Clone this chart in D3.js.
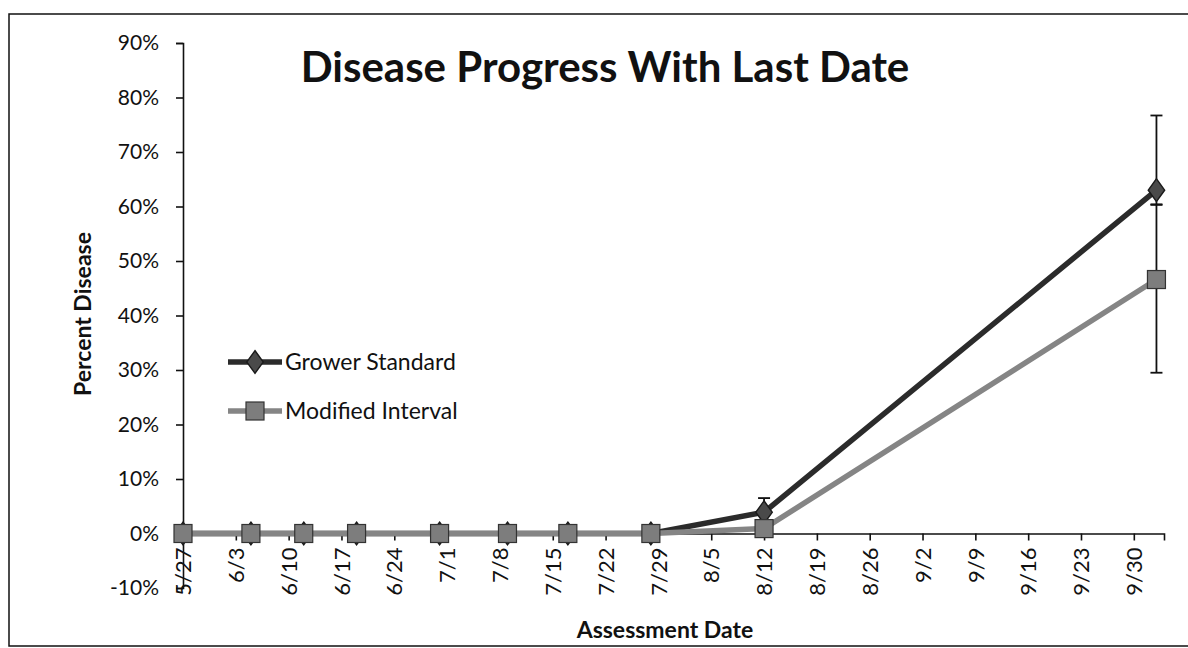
<!DOCTYPE html>
<html>
<head>
<meta charset="utf-8">
<script src="https://cdn.jsdelivr.net/npm/d3@7"></script>
<style>
  body { margin: 0; background: #fff; }
  svg { display: block; font-family: Lato, "Open Sans", sans-serif; }
</style>
</head>
<body>
<svg class="chart" width="1188" height="648"></svg>
<script>
// data
var dates = ["5/27", "6/5", "6/12", "6/19", "6/30", "7/9", "7/17", "7/28", "8/12", "10/3"];
var growerStandard = [0, 0, 0, 0, 0, 0, 0, 0, 3.9, 63];
var modifiedInterval = [0, 0, 0, 0, 0, 0, 0, 0, 0.9, 46.6];
var gsErrPlus = [0, 0, 0, 0, 0, 0, 0, 0, 2.6, 13.7];
var gsErrMinus = [0, 0, 0, 0, 0, 0, 0, 0, 0, 2.7];
var miErrPlus = [0, 0, 0, 0, 0, 0, 0, 0, 0, 13.8];
var miErrMinus = [0, 0, 0, 0, 0, 0, 0, 0, 0, 17.1];
var xTickLabels = ["5/27", "6/3", "6/10", "6/17", "6/24", "7/1", "7/8", "7/15", "7/22", "7/29",
                   "8/5", "8/12", "8/19", "8/26", "9/2", "9/9", "9/16", "9/23", "9/30"];
var yTicks = [-10, 0, 10, 20, 30, 40, 50, 60, 70, 80, 90];
var seriesNames = ["Grower Standard", "Modified Interval"];

var parseDate = function(s) { return d3.timeParse("%m/%d/%Y")(s + "/2013"); };

var margin = {top: 43, left: 183};
var chartWidth = 981;
var chartHeight = 545;

var svg = d3.select(".chart");

// outer frame (left, top, bottom edges of the scanned border)
svg.append("path")
  .attr("d", "M1188,14 L9,14 L9,646 L1188,646")
  .attr("fill", "none").attr("stroke", "#111").attr("stroke-width", 1.5);

var chart = svg.append("g").attr("transform", "translate(" + margin.left + "," + margin.top + ")");

var x = d3.scaleTime()
  .domain([parseDate("5/27"), parseDate("10/4")])
  .range([0, chartWidth]);
var y = d3.scaleLinear().domain([-10, 90]).range([chartHeight, 0]);

// y axis
var yAxis = chart.append("g")
  .call(d3.axisLeft(y).tickValues(yTicks).tickSize(7).tickPadding(17)
    .tickFormat(function(d) { return d + "%"; }));
yAxis.select(".domain").attr("stroke", "#111").attr("stroke-width", 1.6);
yAxis.selectAll(".tick line").attr("stroke", "#111").attr("stroke-width", 1.6);
yAxis.selectAll("text").style("font-size", "21px").attr("fill", "#111")
  .style("font-family", "Lato, sans-serif");

// x axis at 0%
var xAxis = chart.append("g")
  .attr("transform", "translate(0," + y(0) + ")")
  .call(d3.axisBottom(x).tickValues(xTickLabels.map(parseDate)).tickSize(7)
    .tickFormat(function(d, i) { return xTickLabels[i]; }));
xAxis.select(".domain").attr("stroke", "#111").attr("stroke-width", 1.6);
xAxis.selectAll(".tick line").attr("stroke", "#111").attr("stroke-width", 1.6);
xAxis.selectAll("text")
  .style("font-size", "22px").style("font-family", "Lato, sans-serif").attr("fill", "#111")
  .style("text-anchor", "end")
  .attr("transform", "rotate(-90)")
  .attr("x", -14).attr("y", 0).attr("dy", "0.35em");

// title
svg.append("text")
  .attr("x", 605).attr("y", 82)
  .style("text-anchor", "middle")
  .style("font-size", "42px").style("font-weight", "bold").attr("fill", "#111")
  .text("Disease Progress With Last Date");

// axis titles
svg.append("text")
  .attr("transform", "translate(" + 91 + "," + 314 + ") rotate(-90)")
  .style("text-anchor", "middle")
  .style("font-size", "23px").style("font-weight", "bold").attr("fill", "#111")
  .text("Percent Disease");

svg.append("text")
  .attr("x", 665).attr("y", 638)
  .style("text-anchor", "middle")
  .style("font-size", "23px").style("font-weight", "bold").attr("fill", "#111")
  .text("Assessment Date");

var gsData = dates.map(function(d, i) {
  return {date: parseDate(d), v: growerStandard[i], up: gsErrPlus[i], dn: gsErrMinus[i]};
});
var miData = dates.map(function(d, i) {
  return {date: parseDate(d), v: modifiedInterval[i], up: miErrPlus[i], dn: miErrMinus[i]};
});

var line = d3.line()
  .x(function(d) { return x(d.date); })
  .y(function(d) { return y(d.v); });

// error bars
function errorBars(data) {
  var g = chart.append("g");
  data.filter(function(d) { return d.up > 0 || d.dn > 0; }).forEach(function(d) {
    var cx = x(d.date);
    g.append("line").attr("x1", cx).attr("x2", cx)
      .attr("y1", y(d.v + d.up)).attr("y2", y(d.v - d.dn))
      .attr("stroke", "#111").attr("stroke-width", 1.8);
    if (d.up > 0) {
      g.append("line").attr("x1", cx - 6).attr("x2", cx + 6)
        .attr("y1", y(d.v + d.up)).attr("y2", y(d.v + d.up))
        .attr("stroke", "#111").attr("stroke-width", 1.8);
    }
    if (d.dn > 0) {
      g.append("line").attr("x1", cx - 6).attr("x2", cx + 6)
        .attr("y1", y(d.v - d.dn)).attr("y2", y(d.v - d.dn))
        .attr("stroke", "#111").attr("stroke-width", 1.8);
    }
  });
}
errorBars(gsData);
errorBars(miData);

// series lines
chart.append("path").datum(gsData)
  .attr("d", line).attr("fill", "none")
  .attr("stroke", "#2b2b2b").attr("stroke-width", 5.5);
chart.append("path").datum(miData)
  .attr("d", line).attr("fill", "none")
  .attr("stroke", "#858585").attr("stroke-width", 5.5);

var diamond = d3.symbol().type(d3.symbolDiamond).size(150);

chart.selectAll(".gsPoint").data(gsData).enter().append("path")
  .attr("class", "gsPoint")
  .attr("transform", function(d) { return "translate(" + x(d.date) + "," + y(d.v) + ") scale(1.25,1)"; })
  .attr("d", diamond)
  .attr("fill", "#4a4a4a").attr("stroke", "#1a1a1a").attr("stroke-width", 1.2);

chart.selectAll(".miPoint").data(miData).enter().append("rect")
  .attr("class", "miPoint")
  .attr("x", function(d) { return x(d.date) - 9; })
  .attr("y", function(d) { return y(d.v) - 9; })
  .attr("width", 18).attr("height", 18)
  .attr("fill", "#7d7d7d").attr("stroke", "#333").attr("stroke-width", 1.2);

// legend
var legend = svg.append("g");
seriesNames.forEach(function(name, i) {
  var ly = 362 + i * 49;
  var row = legend.append("g").attr("transform", "translate(228," + ly + ")");
  row.append("line").attr("x1", 0).attr("x2", 54).attr("y1", 0).attr("y2", 0)
    .attr("stroke", i === 0 ? "#2b2b2b" : "#858585").attr("stroke-width", 5.5);
  if (i === 0) {
    row.append("path").attr("d", diamond)
      .attr("transform", "translate(27,0) scale(1.25,1)")
      .attr("fill", "#4a4a4a").attr("stroke", "#1a1a1a").attr("stroke-width", 1.2);
  } else {
    row.append("rect").attr("x", 18).attr("y", -9).attr("width", 18).attr("height", 18)
      .attr("fill", "#7d7d7d").attr("stroke", "#333").attr("stroke-width", 1.2);
  }
  row.append("text").attr("x", 57).attr("y", 0).attr("dy", "0.35em")
    .style("font-size", "23px").attr("fill", "#111")
    .text(name);
});
</script>
</body>
</html>
